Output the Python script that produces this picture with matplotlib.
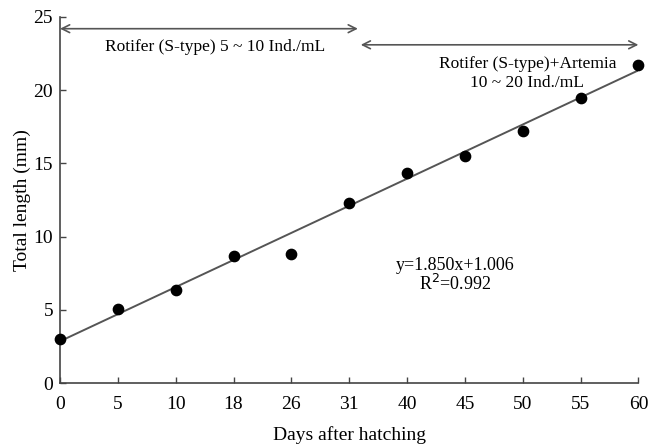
import matplotlib
matplotlib.use("Agg")
import matplotlib.pyplot as plt
import numpy as np

# days after hatching (shown as equally spaced categories)
days = ["0", "5", "10", "18", "26", "31", "40", "45", "50", "55", "60"]
# total length (mm)
lengths = [3.0, 5.07, 6.37, 8.67, 8.81, 12.3, 14.35, 15.5, 17.2, 19.5, 21.75]
slope = 1.850
intercept = 1.006

plt.rcParams['font.family'] = ['Liberation Serif', 'DejaVu Serif']

fig = plt.figure(figsize=(6.58, 4.47), dpi=100)
ax = fig.add_axes([0.0912, 0.143, 0.879, 0.819])

pos = np.arange(len(days))
# fitted line, x counted from 1
fit = slope * (pos + 1) + intercept
ax.plot(pos, fit, color='#555555', lw=1.4, zorder=2)
ax.scatter(pos, lengths, s=55, color='black', zorder=3, clip_on=False)

ax.set_xlim(0, len(days) - 1)
ax.set_ylim(0, 25)
ax.set_xticks(pos)
ax.set_xticklabels(days)
ax.set_yticks([0, 5, 10, 15, 20, 25])
ax.tick_params(direction='in', length=4, width=1, color='#444444', labelsize=14)
ax.tick_params(axis='x', pad=9)
ax.tick_params(axis='y', pad=5)
for s in ['top', 'right']:
    ax.spines[s].set_visible(False)
for s in ['left', 'bottom']:
    ax.spines[s].set_color('#444444')
    ax.spines[s].set_linewidth(1.2)

ax.set_xlabel('Days after hatching', fontsize=14, labelpad=10)
ax.set_ylabel('Total length (mm)', fontsize=14, labelpad=2)

# feeding period arrows
arrow = dict(arrowstyle='<->', color='#555555', lw=1.2, shrinkA=0, shrinkB=0,
             mutation_scale=14)
ax.annotate('', xy=(0, 24.2), xytext=(5.15, 24.2), arrowprops=arrow, annotation_clip=False)
ax.annotate('', xy=(5.2, 23.1), xytext=(10.0, 23.1), arrowprops=arrow, annotation_clip=False)
ax.text(2.68, 22.95, 'Rotifer (S-type) 5 ~ 10 Ind./mL', ha='center', va='center', fontsize=12.5)
ax.text(8.08, 21.15, 'Rotifer (S-type)+Artemia\n10 ~ 20 Ind./mL', ha='center', va='center',
        fontsize=12.5, linespacing=1.3)

ax.text(6.83, 7.35, 'y=1.850x+1.006\nR$^2$=0.992', ha='center', va='center', fontsize=13,
        linespacing=0.95)

fig.savefig('out.png', dpi=100)
